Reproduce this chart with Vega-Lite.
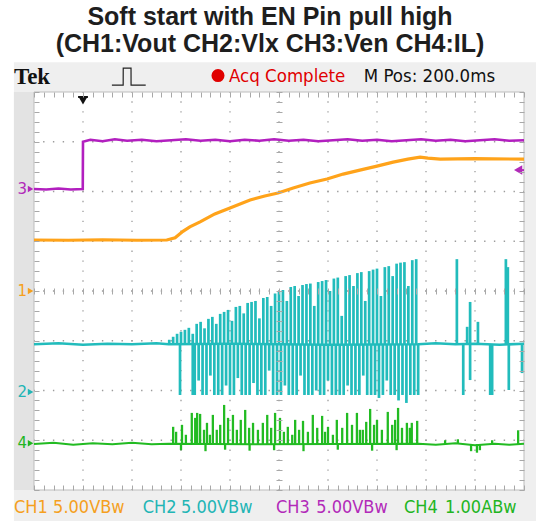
{
  "$schema": "https://vega.github.io/schema/vega-lite/v6.json",
  "width": 490,
  "height": 398,
  "autosize": {"type": "none"},
  "padding": {"left": 34, "top": 92, "right": 12, "bottom": 31},
  "background": "white",
  "config": {"view": {"stroke": null}},
  "title": {
    "text": ["Soft start with EN Pin pull high", "(CH1:Vout CH2:Vlx CH3:Ven CH4:IL)"],
    "font": "Liberation Sans",
    "fontWeight": "bold",
    "fontSize": 25,
    "lineHeight": 27,
    "color": "#1e1e1e",
    "anchor": "middle",
    "offset": 5,
    "dx": -9
  },
  "datasets": {
    "panels": [
      {"part": "frame", "x": -0.41, "x2": 10.4, "y": -4.75, "y2": 4.6},
      {"part": "strip", "x": -0.41, "x2": 0, "y": -4.0, "y2": 4.0},
      {"part": "screen", "x": 0, "x2": 10, "y": -4, "y2": 4}
    ],
    "vgrid": [{"x": 1}, {"x": 2}, {"x": 3}, {"x": 4}, {"x": 5}, {"x": 6}, {"x": 7}, {"x": 8}, {"x": 9}],
    "hgrid": [{"y": -3}, {"y": -2}, {"y": -1}, {"y": 0}, {"y": 1}, {"y": 2}, {"y": 3}],
    "ch3": [
      {"t": 0, "v": 2.05}, {"t": 0.25, "v": 2.04}, {"t": 0.5, "v": 2.06}, {"t": 0.75, "v": 2.04}, {"t": 0.995, "v": 2.05},
      {"t": 1.0, "v": 3.0}, {"t": 1.15, "v": 3.04}, {"t": 1.4, "v": 3.01}, {"t": 1.65, "v": 3.05}, {"t": 1.9, "v": 3.02},
      {"t": 2.2, "v": 3.04}, {"t": 2.5, "v": 3.01}, {"t": 2.8, "v": 3.03}, {"t": 3.1, "v": 3.05}, {"t": 3.4, "v": 3.02},
      {"t": 3.7, "v": 3.04}, {"t": 4.0, "v": 3.01}, {"t": 4.3, "v": 3.04}, {"t": 4.6, "v": 3.02}, {"t": 4.9, "v": 3.05},
      {"t": 5.2, "v": 3.02}, {"t": 5.5, "v": 3.04}, {"t": 5.8, "v": 3.01}, {"t": 6.1, "v": 3.03}, {"t": 6.4, "v": 3.05},
      {"t": 6.7, "v": 3.02}, {"t": 7.0, "v": 3.04}, {"t": 7.3, "v": 3.01}, {"t": 7.6, "v": 3.03}, {"t": 7.9, "v": 3.05},
      {"t": 8.2, "v": 3.02}, {"t": 8.5, "v": 3.04}, {"t": 8.8, "v": 3.01}, {"t": 9.1, "v": 3.03}, {"t": 9.4, "v": 3.05},
      {"t": 9.7, "v": 3.02}, {"t": 10, "v": 3.03}
    ],
    "ch1": [
      {"t": 0, "v": 1.025}, {"t": 0.7, "v": 1.02}, {"t": 1.4, "v": 1.03}, {"t": 2.1, "v": 1.02}, {"t": 2.71, "v": 1.025},
      {"t": 2.88, "v": 1.07}, {"t": 3.04, "v": 1.2}, {"t": 3.18, "v": 1.29}, {"t": 3.39, "v": 1.39}, {"t": 3.69, "v": 1.55},
      {"t": 4.0, "v": 1.67}, {"t": 4.41, "v": 1.83}, {"t": 4.71, "v": 1.91}, {"t": 4.98, "v": 1.97}, {"t": 5.29, "v": 2.07},
      {"t": 5.63, "v": 2.17}, {"t": 5.98, "v": 2.25}, {"t": 6.31, "v": 2.35}, {"t": 6.65, "v": 2.43}, {"t": 7.0, "v": 2.51},
      {"t": 7.33, "v": 2.59}, {"t": 7.63, "v": 2.65}, {"t": 7.88, "v": 2.69}, {"t": 8.04, "v": 2.67}, {"t": 8.29, "v": 2.65},
      {"t": 9.0, "v": 2.66}, {"t": 10, "v": 2.65}
    ],
    "ch2base": [
      {"t": 0, "v": -1.07}, {"t": 0.5, "v": -1.05}, {"t": 1, "v": -1.08}, {"t": 1.5, "v": -1.06}, {"t": 2, "v": -1.07},
      {"t": 2.5, "v": -1.05}, {"t": 2.75, "v": -1.07}, {"t": 4, "v": -1.06}, {"t": 6, "v": -1.08}, {"t": 7.84, "v": -1.07},
      {"t": 8.2, "v": -1.05}, {"t": 8.6, "v": -1.07}, {"t": 9.0, "v": -1.06}, {"t": 9.5, "v": -1.08}, {"t": 10, "v": -1.06}
    ],
    "ch2spk": [
      {"t": 2.76, "lo": -1.07, "hi": -0.98}, {"t": 2.84, "lo": -1.07, "hi": -0.92}, {"t": 2.92, "lo": -1.07, "hi": -0.86},
      {"t": 3.0, "lo": -1.07, "hi": -0.82}, {"t": 3.08, "lo": -1.07, "hi": -0.78}, {"t": 3.16, "lo": -1.07, "hi": -0.74},
      {"t": 3.24, "lo": -1.07, "hi": -0.86}, {"t": 3.32, "lo": -1.07, "hi": -0.66}, {"t": 3.4, "lo": -1.07, "hi": -0.62},
      {"t": 3.48, "lo": -1.07, "hi": -0.75}, {"t": 3.56, "lo": -1.07, "hi": -0.56}, {"t": 3.64, "lo": -1.07, "hi": -0.52},
      {"t": 3.72, "lo": -1.07, "hi": -0.66}, {"t": 3.8, "lo": -1.07, "hi": -0.46}, {"t": 3.88, "lo": -1.07, "hi": -0.42},
      {"t": 3.96, "lo": -1.07, "hi": -0.38}, {"t": 4.04, "lo": -1.07, "hi": -0.6}, {"t": 4.12, "lo": -1.07, "hi": -0.32},
      {"t": 4.2, "lo": -1.07, "hi": -0.3}, {"t": 4.28, "lo": -1.07, "hi": -0.45}, {"t": 4.36, "lo": -1.07, "hi": -0.24},
      {"t": 4.44, "lo": -1.07, "hi": -0.22}, {"t": 4.52, "lo": -1.07, "hi": -0.2}, {"t": 4.6, "lo": -1.07, "hi": -0.55},
      {"t": 4.68, "lo": -1.07, "hi": -0.14}, {"t": 4.76, "lo": -1.07, "hi": -0.12}, {"t": 4.84, "lo": -1.07, "hi": -0.3},
      {"t": 4.92, "lo": -1.07, "hi": -0.05}, {"t": 5.0, "lo": -1.07, "hi": -0.02}, {"t": 5.08, "lo": -1.07, "hi": 0.02},
      {"t": 5.16, "lo": -1.07, "hi": -0.2}, {"t": 5.24, "lo": -1.07, "hi": 0.08}, {"t": 5.32, "lo": -1.07, "hi": 0.1},
      {"t": 5.4, "lo": -1.07, "hi": -0.1}, {"t": 5.48, "lo": -1.07, "hi": 0.12}, {"t": 5.56, "lo": -1.07, "hi": 0.14},
      {"t": 5.64, "lo": -1.07, "hi": 0.15}, {"t": 5.72, "lo": -1.07, "hi": -0.3}, {"t": 5.8, "lo": -1.07, "hi": 0.18},
      {"t": 5.88, "lo": -1.07, "hi": 0.2}, {"t": 5.96, "lo": -1.07, "hi": 0.22}, {"t": 6.04, "lo": -1.07, "hi": 0.0},
      {"t": 6.12, "lo": -1.07, "hi": 0.25}, {"t": 6.2, "lo": -1.07, "hi": 0.27}, {"t": 6.28, "lo": -1.07, "hi": -0.5},
      {"t": 6.36, "lo": -1.07, "hi": 0.3}, {"t": 6.44, "lo": -1.07, "hi": 0.32}, {"t": 6.52, "lo": -1.07, "hi": 0.1},
      {"t": 6.6, "lo": -1.07, "hi": 0.36}, {"t": 6.68, "lo": -1.07, "hi": 0.38}, {"t": 6.76, "lo": -1.07, "hi": -0.2},
      {"t": 6.84, "lo": -1.07, "hi": 0.4}, {"t": 6.92, "lo": -1.07, "hi": 0.43}, {"t": 7.0, "lo": -1.07, "hi": 0.45},
      {"t": 7.08, "lo": -1.07, "hi": -0.1}, {"t": 7.16, "lo": -1.07, "hi": 0.48}, {"t": 7.24, "lo": -1.07, "hi": 0.5},
      {"t": 7.32, "lo": -1.07, "hi": 0.3}, {"t": 7.4, "lo": -1.07, "hi": 0.55}, {"t": 7.48, "lo": -1.07, "hi": 0.57},
      {"t": 7.56, "lo": -1.07, "hi": 0.58}, {"t": 7.64, "lo": -1.07, "hi": 0.1}, {"t": 7.72, "lo": -1.07, "hi": 0.62},
      {"t": 7.8, "lo": -1.07, "hi": 0.64},
      {"t": 2.98, "lo": -2.09, "hi": -1.07}, {"t": 3.24, "lo": -2.09, "hi": -1.07}, {"t": 3.28, "lo": -2.09, "hi": -1.07},
      {"t": 3.36, "lo": -1.8, "hi": -1.07}, {"t": 3.44, "lo": -2.09, "hi": -1.07}, {"t": 3.52, "lo": -2.09, "hi": -1.07},
      {"t": 3.6, "lo": -1.7, "hi": -1.07}, {"t": 3.68, "lo": -2.09, "hi": -1.07}, {"t": 3.76, "lo": -2.09, "hi": -1.07},
      {"t": 3.84, "lo": -2.09, "hi": -1.07}, {"t": 3.92, "lo": -1.9, "hi": -1.07}, {"t": 4.0, "lo": -2.09, "hi": -1.07},
      {"t": 4.08, "lo": -2.09, "hi": -1.07}, {"t": 4.16, "lo": -1.75, "hi": -1.07}, {"t": 4.24, "lo": -2.09, "hi": -1.07},
      {"t": 4.32, "lo": -2.09, "hi": -1.07}, {"t": 4.4, "lo": -2.09, "hi": -1.07}, {"t": 4.48, "lo": -1.85, "hi": -1.07},
      {"t": 4.56, "lo": -2.09, "hi": -1.07}, {"t": 4.64, "lo": -2.09, "hi": -1.07}, {"t": 4.72, "lo": -2.09, "hi": -1.07},
      {"t": 4.8, "lo": -1.6, "hi": -1.07}, {"t": 4.88, "lo": -2.09, "hi": -1.07}, {"t": 4.96, "lo": -2.09, "hi": -1.07},
      {"t": 5.04, "lo": -2.09, "hi": -1.07}, {"t": 5.12, "lo": -1.9, "hi": -1.07}, {"t": 5.2, "lo": -2.09, "hi": -1.07},
      {"t": 5.28, "lo": -2.09, "hi": -1.07}, {"t": 5.36, "lo": -2.09, "hi": -1.07}, {"t": 5.44, "lo": -1.7, "hi": -1.07},
      {"t": 5.52, "lo": -2.09, "hi": -1.07}, {"t": 5.6, "lo": -2.09, "hi": -1.07}, {"t": 5.68, "lo": -2.09, "hi": -1.07},
      {"t": 5.76, "lo": -2.0, "hi": -1.07}, {"t": 5.84, "lo": -2.09, "hi": -1.07}, {"t": 5.92, "lo": -2.09, "hi": -1.07},
      {"t": 6.0, "lo": -1.8, "hi": -1.07}, {"t": 6.08, "lo": -2.09, "hi": -1.07}, {"t": 6.16, "lo": -2.09, "hi": -1.07},
      {"t": 6.24, "lo": -2.09, "hi": -1.07}, {"t": 6.32, "lo": -2.09, "hi": -1.07}, {"t": 6.4, "lo": -1.9, "hi": -1.07},
      {"t": 6.48, "lo": -2.09, "hi": -1.07}, {"t": 6.56, "lo": -2.09, "hi": -1.07}, {"t": 6.64, "lo": -2.09, "hi": -1.07},
      {"t": 6.72, "lo": -1.7, "hi": -1.07}, {"t": 6.8, "lo": -2.09, "hi": -1.07}, {"t": 6.88, "lo": -2.09, "hi": -1.07},
      {"t": 6.96, "lo": -2.09, "hi": -1.07}, {"t": 7.04, "lo": -2.15, "hi": -1.07}, {"t": 7.12, "lo": -2.09, "hi": -1.07},
      {"t": 7.2, "lo": -1.8, "hi": -1.07}, {"t": 7.28, "lo": -2.09, "hi": -1.07}, {"t": 7.36, "lo": -2.09, "hi": -1.07},
      {"t": 7.44, "lo": -2.2, "hi": -1.07}, {"t": 7.52, "lo": -2.09, "hi": -1.07}, {"t": 7.6, "lo": -2.25, "hi": -1.07},
      {"t": 7.68, "lo": -2.09, "hi": -1.07}, {"t": 7.76, "lo": -2.09, "hi": -1.07}, {"t": 7.84, "lo": -2.09, "hi": -1.07},
      {"t": 8.63, "lo": -1.07, "hi": 0.64}, {"t": 8.76, "lo": -2.09, "hi": -1.07}, {"t": 8.84, "lo": -1.07, "hi": -0.72},
      {"t": 8.9, "lo": -1.79, "hi": -0.22}, {"t": 9.06, "lo": -1.07, "hi": -0.62}, {"t": 9.31, "lo": -2.09, "hi": -1.07},
      {"t": 9.35, "lo": -2.09, "hi": -1.07}, {"t": 9.63, "lo": -1.07, "hi": 0.64}, {"t": 9.67, "lo": -1.07, "hi": 0.48},
      {"t": 9.69, "lo": -1.99, "hi": -1.07}, {"t": 9.96, "lo": -1.65, "hi": -1.07}
    ],
    "ch4base": [
      {"t": 0, "v": -3.075}, {"t": 0.4, "v": -3.05}, {"t": 0.8, "v": -3.09}, {"t": 1.2, "v": -3.06}, {"t": 1.6, "v": -3.08},
      {"t": 2.0, "v": -3.05}, {"t": 2.4, "v": -3.08}, {"t": 2.75, "v": -3.07}, {"t": 4.5, "v": -3.08}, {"t": 7.85, "v": -3.07},
      {"t": 8.2, "v": -3.09}, {"t": 8.6, "v": -3.06}, {"t": 9.0, "v": -3.1}, {"t": 9.4, "v": -3.07}, {"t": 9.7, "v": -3.09}, {"t": 10, "v": -3.07}
    ],
    "ch4spk": [
      {"t": 2.84, "lo": -3.075, "hi": -2.73}, {"t": 2.9, "lo": -3.075, "hi": -2.83}, {"t": 3.02, "lo": -3.075, "hi": -2.69},
      {"t": 3.1, "lo": -3.075, "hi": -2.89}, {"t": 3.22, "lo": -3.075, "hi": -2.45}, {"t": 3.29, "lo": -3.075, "hi": -2.55},
      {"t": 3.33, "lo": -3.075, "hi": -2.45}, {"t": 3.39, "lo": -3.075, "hi": -2.47}, {"t": 3.47, "lo": -3.075, "hi": -2.79},
      {"t": 3.53, "lo": -3.075, "hi": -2.65}, {"t": 3.59, "lo": -3.075, "hi": -2.89}, {"t": 3.65, "lo": -3.075, "hi": -2.49},
      {"t": 3.73, "lo": -3.075, "hi": -2.79}, {"t": 3.8, "lo": -3.075, "hi": -2.69}, {"t": 3.88, "lo": -3.075, "hi": -2.29},
      {"t": 3.96, "lo": -3.075, "hi": -2.55}, {"t": 4.06, "lo": -3.075, "hi": -2.49}, {"t": 4.14, "lo": -3.075, "hi": -2.79},
      {"t": 4.22, "lo": -3.075, "hi": -2.59}, {"t": 4.31, "lo": -3.075, "hi": -2.39}, {"t": 4.39, "lo": -3.075, "hi": -2.75},
      {"t": 4.47, "lo": -3.075, "hi": -2.65}, {"t": 4.57, "lo": -3.075, "hi": -2.79}, {"t": 4.67, "lo": -3.075, "hi": -2.65},
      {"t": 4.76, "lo": -3.075, "hi": -2.49}, {"t": 4.84, "lo": -3.075, "hi": -2.75}, {"t": 4.92, "lo": -3.075, "hi": -2.45},
      {"t": 5.02, "lo": -3.075, "hi": -2.55}, {"t": 5.1, "lo": -3.075, "hi": -2.83}, {"t": 5.18, "lo": -3.075, "hi": -2.73},
      {"t": 5.27, "lo": -3.075, "hi": -2.89}, {"t": 5.33, "lo": -3.075, "hi": -2.59}, {"t": 5.41, "lo": -3.075, "hi": -2.79},
      {"t": 5.49, "lo": -3.075, "hi": -2.61}, {"t": 5.59, "lo": -3.075, "hi": -2.83}, {"t": 5.69, "lo": -3.075, "hi": -2.49},
      {"t": 5.78, "lo": -3.075, "hi": -2.75}, {"t": 5.88, "lo": -3.075, "hi": -2.51}, {"t": 5.94, "lo": -3.075, "hi": -2.83},
      {"t": 6.0, "lo": -3.075, "hi": -2.73}, {"t": 6.1, "lo": -3.075, "hi": -2.89}, {"t": 6.18, "lo": -3.075, "hi": -2.59},
      {"t": 6.29, "lo": -3.075, "hi": -2.75}, {"t": 6.39, "lo": -3.075, "hi": -2.45}, {"t": 6.49, "lo": -3.075, "hi": -2.69},
      {"t": 6.59, "lo": -3.075, "hi": -2.45}, {"t": 6.65, "lo": -3.075, "hi": -2.79}, {"t": 6.71, "lo": -3.075, "hi": -2.79},
      {"t": 6.78, "lo": -3.075, "hi": -2.63}, {"t": 6.86, "lo": -3.075, "hi": -2.37}, {"t": 6.94, "lo": -3.075, "hi": -2.69},
      {"t": 7.0, "lo": -3.075, "hi": -2.59}, {"t": 7.1, "lo": -3.075, "hi": -2.79}, {"t": 7.22, "lo": -3.075, "hi": -2.43},
      {"t": 7.31, "lo": -3.075, "hi": -2.69}, {"t": 7.37, "lo": -3.075, "hi": -2.59}, {"t": 7.43, "lo": -3.075, "hi": -2.35},
      {"t": 7.51, "lo": -3.075, "hi": -2.75}, {"t": 7.61, "lo": -3.075, "hi": -2.65}, {"t": 7.67, "lo": -3.075, "hi": -2.75},
      {"t": 7.71, "lo": -3.075, "hi": -2.65}, {"t": 7.82, "lo": -3.075, "hi": -2.61},
      {"t": 3.0, "lo": -3.2, "hi": -3.075}, {"t": 3.5, "lo": -3.22, "hi": -3.075}, {"t": 3.9, "lo": -3.19, "hi": -3.075},
      {"t": 4.4, "lo": -3.21, "hi": -3.075}, {"t": 4.9, "lo": -3.2, "hi": -3.075}, {"t": 5.5, "lo": -3.22, "hi": -3.075},
      {"t": 6.2, "lo": -3.19, "hi": -3.075}, {"t": 6.9, "lo": -3.21, "hi": -3.075}, {"t": 7.4, "lo": -3.2, "hi": -3.075},
      {"t": 8.39, "lo": -3.075, "hi": -3.0}, {"t": 8.65, "lo": -3.075, "hi": -2.98}, {"t": 8.92, "lo": -3.22, "hi": -3.075},
      {"t": 9.04, "lo": -3.25, "hi": -3.075}, {"t": 9.1, "lo": -3.2, "hi": -3.075}, {"t": 9.35, "lo": -3.075, "hi": -3.0},
      {"t": 9.88, "lo": -3.075, "hi": -2.8}
    ],
    "icon": [
      {"t": 1.59, "v": 4.14}, {"t": 1.82, "v": 4.14}, {"t": 1.821, "v": 4.48}, {"t": 1.98, "v": 4.48}, {"t": 1.981, "v": 4.14}, {"t": 2.28, "v": 4.14}
    ],
    "hdr": [{"x": -0.41, "y": 4.16, "txt": "Tek"}],
    "status": [
      {"x": 3.98, "y": 4.2, "txt": "Acq Complete", "k": "Acq"},
      {"x": 6.73, "y": 4.2, "txt": "M Pos: 200.0ms", "k": "Tek"}
    ],
    "dot": [{"x": 3.755, "y": 4.33, "k": "Acq"}],
    "foot": [
      {"x": -0.41, "txt": "CH1", "k": "CH1"}, {"x": 0.39, "txt": "5.00VBw", "k": "CH1"},
      {"x": 2.22, "txt": "CH2", "k": "CH2"}, {"x": 3.0, "txt": "5.00VBw", "k": "CH2"},
      {"x": 4.94, "txt": "CH3", "k": "CH3"}, {"x": 5.76, "txt": "5.00VBw", "k": "CH3"},
      {"x": 7.55, "txt": "CH4", "k": "CH4"}, {"x": 8.39, "txt": "1.00ABw", "k": "CH4"}
    ],
    "marks": [
      {"lab": "3", "y": 2.05, "k": "CH3"}, {"lab": "1", "y": 0, "k": "CH1"},
      {"lab": "2", "y": -2.03, "k": "CH2"}, {"lab": "4", "y": -3.06, "k": "CH4"}
    ],
    "trig": [{"x": 1.0, "y": 3.83, "shape": "triangle-down", "k": "Tek"}, {"x": 9.88, "y": 2.43, "shape": "triangle-left", "k": "CH3"}],
    "trigbar": [{"x": 0.9, "x2": 1.1, "y": 3.9, "k": "Tek"}, {"x": 9.88, "x2": 10.0, "y": 2.43, "k": "CH3"}]
  },
  "layer": [
    {
      "data": {"name": "panels"},
      "transform": [{"filter": "datum.part == 'frame'"}],
      "mark": {"type": "rect", "fill": "#efefef", "clip": false},
      "encoding": {
        "x": {"field": "x", "type": "quantitative", "scale": {"domain": [0, 10], "nice": false, "zero": false}, "axis": null},
        "x2": {"field": "x2"},
        "y": {"field": "y", "type": "quantitative", "scale": {"domain": [-4, 4], "nice": false, "zero": false}, "axis": null},
        "y2": {"field": "y2"}
      }
    },
    {
      "data": {"name": "panels"},
      "transform": [{"filter": "datum.part == 'strip'"}],
      "mark": {"type": "rect", "fill": "#e3e3e3", "clip": false},
      "encoding": {
        "x": {"field": "x", "type": "quantitative", "scale": {"domain": [0, 10], "nice": false, "zero": false}, "axis": null},
        "x2": {"field": "x2"},
        "y": {"field": "y", "type": "quantitative", "scale": {"domain": [-4, 4], "nice": false, "zero": false}, "axis": null},
        "y2": {"field": "y2"}
      }
    },
    {
      "data": {"name": "panels"},
      "transform": [{"filter": "datum.part == 'screen'"}],
      "mark": {"type": "rect", "fill": "#ffffff", "stroke": "#bdbdbd", "strokeWidth": 1},
      "encoding": {
        "x": {"field": "x", "type": "quantitative", "scale": {"domain": [0, 10], "nice": false, "zero": false},
          "axis": {"orient": "bottom", "offset": -5, "tickSize": 5, "tickCount": 50, "labels": false, "domain": false, "grid": false, "title": null, "tickColor": "#a8a8a8", "zindex": 1}},
        "x2": {"field": "x2"},
        "y": {"field": "y", "type": "quantitative", "scale": {"domain": [-4, 4], "nice": false, "zero": false},
          "axis": {"orient": "left", "offset": -5, "tickSize": 5, "tickCount": 40, "labels": false, "domain": false, "grid": false, "title": null, "tickColor": "#a8a8a8", "zindex": 1}},
        "y2": {"field": "y2"}
      }
    },
    {
      "data": {"name": "vgrid"},
      "mark": {"type": "rule", "color": "#9c9c9c", "strokeWidth": 1.3, "strokeDash": [1.4, 8.55], "strokeDashOffset": 0.7},
      "encoding": {
        "x": {"field": "x", "type": "quantitative", "scale": {"domain": [0, 10], "nice": false, "zero": false},
          "axis": {"orient": "top", "offset": -5, "tickSize": 5, "tickCount": 50, "labels": false, "domain": false, "grid": false, "title": null, "tickColor": "#a8a8a8", "zindex": 1}}
      }
    },
    {
      "data": {"name": "hgrid"},
      "mark": {"type": "rule", "color": "#9c9c9c", "strokeWidth": 1.3, "strokeDash": [1.4, 8.4], "strokeDashOffset": 0.7},
      "encoding": {
        "y": {"field": "y", "type": "quantitative", "scale": {"domain": [-4, 4], "nice": false, "zero": false},
          "axis": {"orient": "right", "offset": -5, "tickSize": 5, "tickCount": 40, "labels": false, "domain": false, "grid": false, "title": null, "tickColor": "#a8a8a8", "zindex": 1}}
      }
    },
    {
      "data": {"name": "ch3"},
      "mark": {"type": "line", "color": "#b21fbf", "strokeWidth": 2.6, "interpolate": "linear"},
      "encoding": {
        "x": {"field": "t", "type": "quantitative", "scale": {"domain": [0, 10], "nice": false, "zero": false},
          "axis": {"orient": "bottom", "offset": -202, "tickSize": 6, "tickCount": 50, "labels": false, "domain": false, "grid": false, "title": null, "tickColor": "#a8a8a8", "zindex": 1}},
        "y": {"field": "v", "type": "quantitative", "scale": {"domain": [-4, 4], "nice": false, "zero": false},
          "axis": {"orient": "left", "offset": -248, "tickSize": 6, "tickCount": 40, "labels": false, "domain": false, "grid": false, "title": null, "tickColor": "#a8a8a8", "zindex": 1}}
      }
    },
    {
      "data": {"name": "ch1"},
      "mark": {"type": "line", "color": "#ffa31a", "strokeWidth": 3.2},
      "encoding": {
        "x": {"field": "t", "type": "quantitative", "scale": {"domain": [0, 10], "nice": false, "zero": false}, "axis": null},
        "y": {"field": "v", "type": "quantitative", "scale": {"domain": [-4, 4], "nice": false, "zero": false}, "axis": null}
      }
    },
    {
      "data": {"name": "ch2base"},
      "mark": {"type": "line", "color": "#22bcbc", "strokeWidth": 2.6},
      "encoding": {
        "x": {"field": "t", "type": "quantitative", "scale": {"domain": [0, 10], "nice": false, "zero": false}, "axis": null},
        "y": {"field": "v", "type": "quantitative", "scale": {"domain": [-4, 4], "nice": false, "zero": false}, "axis": null}
      }
    },
    {
      "data": {"name": "ch2spk"},
      "mark": {"type": "rule", "color": "#22bcbc", "strokeWidth": 2.7},
      "encoding": {
        "x": {"field": "t", "type": "quantitative", "scale": {"domain": [0, 10], "nice": false, "zero": false}, "axis": null},
        "y": {"field": "lo", "type": "quantitative", "scale": {"domain": [-4, 4], "nice": false, "zero": false}, "axis": null},
        "y2": {"field": "hi"}
      }
    },
    {
      "data": {"name": "ch4base"},
      "mark": {"type": "line", "color": "#22bb22", "strokeWidth": 2.2},
      "encoding": {
        "x": {"field": "t", "type": "quantitative", "scale": {"domain": [0, 10], "nice": false, "zero": false}, "axis": null},
        "y": {"field": "v", "type": "quantitative", "scale": {"domain": [-4, 4], "nice": false, "zero": false}, "axis": null}
      }
    },
    {
      "data": {"name": "ch4spk"},
      "mark": {"type": "rule", "color": "#22bb22", "strokeWidth": 2.3},
      "encoding": {
        "x": {"field": "t", "type": "quantitative", "scale": {"domain": [0, 10], "nice": false, "zero": false}, "axis": null},
        "y": {"field": "lo", "type": "quantitative", "scale": {"domain": [-4, 4], "nice": false, "zero": false}, "axis": null},
        "y2": {"field": "hi"}
      }
    },
    {
      "data": {"name": "icon"},
      "mark": {"type": "line", "color": "#222222", "strokeWidth": 1.2, "clip": false},
      "encoding": {
        "x": {"field": "t", "type": "quantitative", "scale": {"domain": [0, 10], "nice": false, "zero": false}, "axis": null},
        "y": {"field": "v", "type": "quantitative", "scale": {"domain": [-4, 4], "nice": false, "zero": false}, "axis": null}
      }
    },
    {
      "data": {"name": "hdr"},
      "mark": {"type": "text", "font": "Liberation Serif", "fontWeight": "bold", "fontSize": 23, "align": "left", "baseline": "alphabetic", "color": "#111111", "clip": false},
      "encoding": {
        "x": {"field": "x", "type": "quantitative", "scale": {"domain": [0, 10], "nice": false, "zero": false}, "axis": null},
        "y": {"field": "y", "type": "quantitative", "scale": {"domain": [-4, 4], "nice": false, "zero": false}, "axis": null},
        "text": {"field": "txt"}
      }
    },
    {
      "data": {"name": "status"},
      "mark": {"type": "text", "font": "DejaVu Sans Condensed, DejaVu Sans, sans-serif", "fontSize": 18.5, "align": "left", "baseline": "alphabetic", "clip": false},
      "encoding": {
        "x": {"field": "x", "type": "quantitative", "scale": {"domain": [0, 10], "nice": false, "zero": false}, "axis": null},
        "y": {"field": "y", "type": "quantitative", "scale": {"domain": [-4, 4], "nice": false, "zero": false}, "axis": null},
        "text": {"field": "txt"},
        "color": {"field": "k", "type": "nominal", "legend": null,
          "scale": {"domain": ["CH1", "CH2", "CH3", "CH4", "Tek", "Acq"], "range": ["#f5a01e", "#22b5b5", "#b22ab9", "#22b522", "#111111", "#e00000"]}}
      }
    },
    {
      "data": {"name": "dot"},
      "mark": {"type": "point", "shape": "circle", "filled": true, "size": 170, "opacity": 1, "clip": false},
      "encoding": {
        "x": {"field": "x", "type": "quantitative", "scale": {"domain": [0, 10], "nice": false, "zero": false}, "axis": null},
        "y": {"field": "y", "type": "quantitative", "scale": {"domain": [-4, 4], "nice": false, "zero": false}, "axis": null},
        "color": {"field": "k", "type": "nominal", "legend": null}
      }
    },
    {
      "data": {"name": "foot"},
      "mark": {"type": "text", "font": "DejaVu Sans Condensed, DejaVu Sans, sans-serif", "fontSize": 18, "align": "left", "baseline": "alphabetic", "clip": false},
      "encoding": {
        "x": {"field": "x", "type": "quantitative", "scale": {"domain": [0, 10], "nice": false, "zero": false}, "axis": null},
        "y": {"datum": -4.46, "type": "quantitative", "scale": {"domain": [-4, 4], "nice": false, "zero": false}, "axis": null},
        "text": {"field": "txt"},
        "color": {"field": "k", "type": "nominal", "legend": null}
      }
    },
    {
      "data": {"name": "marks"},
      "mark": {"type": "text", "font": "DejaVu Sans", "fontSize": 15, "align": "right", "baseline": "middle", "clip": false},
      "encoding": {
        "x": {"datum": -0.14, "type": "quantitative", "scale": {"domain": [0, 10], "nice": false, "zero": false}, "axis": null},
        "y": {"field": "y", "type": "quantitative", "scale": {"domain": [-4, 4], "nice": false, "zero": false}, "axis": null},
        "text": {"field": "lab"},
        "color": {"field": "k", "type": "nominal", "legend": null}
      }
    },
    {
      "data": {"name": "marks"},
      "mark": {"type": "point", "shape": "triangle-right", "filled": true, "size": 40, "opacity": 1, "clip": false},
      "encoding": {
        "x": {"datum": -0.07, "type": "quantitative", "scale": {"domain": [0, 10], "nice": false, "zero": false}, "axis": null},
        "y": {"field": "y", "type": "quantitative", "scale": {"domain": [-4, 4], "nice": false, "zero": false}, "axis": null},
        "color": {"field": "k", "type": "nominal", "legend": null}
      }
    },
    {
      "data": {"name": "trigbar"},
      "mark": {"type": "rule", "strokeWidth": 2, "clip": false},
      "encoding": {
        "x": {"field": "x", "type": "quantitative", "scale": {"domain": [0, 10], "nice": false, "zero": false}, "axis": null},
        "x2": {"field": "x2"},
        "y": {"field": "y", "type": "quantitative", "scale": {"domain": [-4, 4], "nice": false, "zero": false}, "axis": null},
        "color": {"field": "k", "type": "nominal", "legend": null}
      }
    },
    {
      "data": {"name": "trig"},
      "mark": {"type": "point", "filled": true, "size": 90, "opacity": 1, "clip": false},
      "encoding": {
        "x": {"field": "x", "type": "quantitative", "scale": {"domain": [0, 10], "nice": false, "zero": false}, "axis": null},
        "y": {"field": "y", "type": "quantitative", "scale": {"domain": [-4, 4], "nice": false, "zero": false}, "axis": null},
        "shape": {"field": "shape", "type": "nominal", "scale": null},
        "color": {"field": "k", "type": "nominal", "legend": null}
      }
    }
  ],
  "resolve": {"axis": {"x": "independent", "y": "independent"}}
}
